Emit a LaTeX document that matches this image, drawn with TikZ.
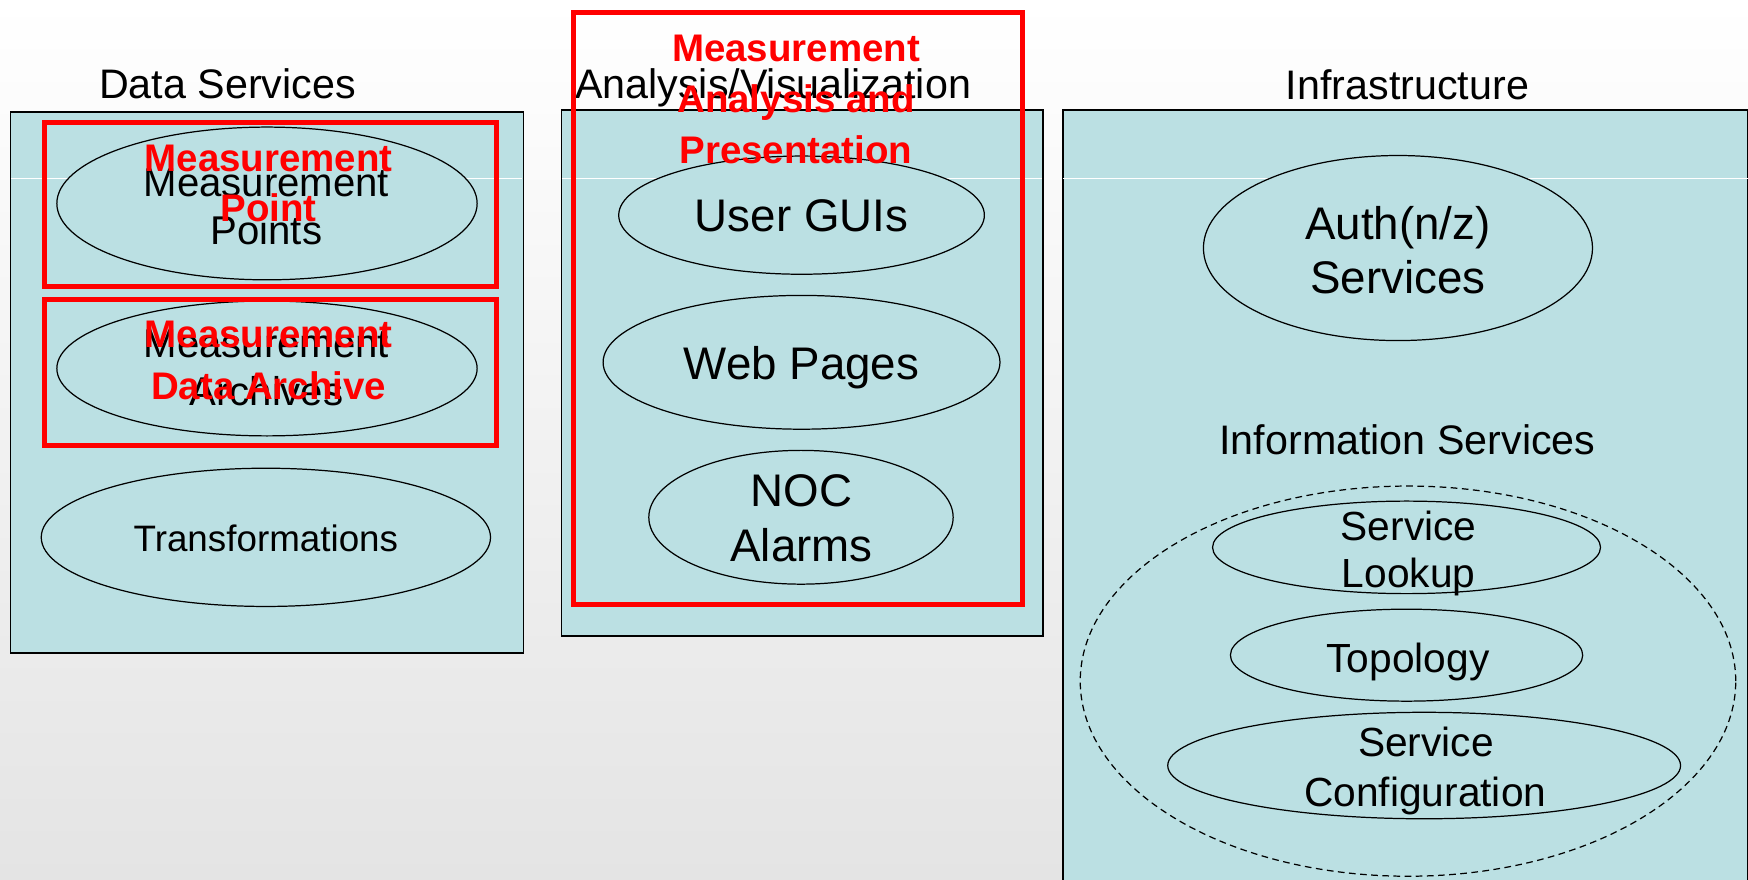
\documentclass[tikz,border=0pt]{standalone}
\usepackage{fontspec}
\setmainfont{Liberation Sans}
\usetikzlibrary{shapes.geometric}
\definecolor{boxfill}{HTML}{BBE0E3}
\definecolor{pptred}{HTML}{FF0000}
\definecolor{bggray}{HTML}{E4E4E4}
\begin{document}
\begin{tikzpicture}[x=1pt,y=-1pt,
  box/.style={draw=black, line width=1.3pt, fill=boxfill, inner sep=0pt, anchor=north west},
  oval/.style={ellipse, draw=black, line width=1.1pt, fill=boxfill, inner sep=0pt},
  dashoval/.style={ellipse, draw=black, line width=1.1pt, dash pattern=on 6pt off 4pt, inner sep=0pt},
  redframe/.style={draw=pptred, line width=4.5pt, inner sep=0pt, anchor=north west},
  lbl/.style={anchor=base, inner sep=0pt, text=black},
  ttl/.style={lbl, font=\fontsize{37}{44}\selectfont},
  big/.style={lbl, font=\fontsize{41}{49}\selectfont},
  mid/.style={lbl, font=\fontsize{36.5}{44}\selectfont},
  left/.style={lbl, font=\fontsize{36}{43}\selectfont},
  redtxt/.style={anchor=base, inner sep=0pt, text=pptred, font=\bfseries\fontsize{34.5}{41}\selectfont},
  sep/.style={draw=white, line width=0.8pt}
]
\useasboundingbox (0,0) rectangle (1568,789);
\clip (0,0) rectangle (1568,789);
\shade[top color=white, bottom color=bggray] (0,0) rectangle (1568,789);

% column boxes
\node[box, minimum width=460pt, minimum height=485pt] (ds) at (9,100) {};
\node[box, minimum width=432pt, minimum height=472pt] (av) at (503,98) {};
\node[box, minimum width=614pt, minimum height=720pt] (inf) at (953,98) {};

% faint white separator line
\coordinate (s1a) at (9.7,160); \coordinate (s1b) at (468.3,160);
\coordinate (s2a) at (503.7,160); \coordinate (s2b) at (934.3,160);
\coordinate (s3a) at (953.7,160); \coordinate (s3b) at (1568,160);
\draw[sep] (s1a) -- (s1b);
\draw[sep] (s2a) -- (s2b);
\draw[sep] (s3a) -- (s3b);

% titles
\node[ttl] (tds) at (204,88.5) {Data Services};
\node[ttl] (tav) at (693.5,88) {Analysis/Visualization};
\node[ttl] (tinf) at (1262.5,89.5) {Infrastructure};

% data services ellipses
\node[oval, minimum width=377pt, minimum height=137pt] (mp) at (239.5,182.5) {};
\node[oval, minimum width=377pt, minimum height=121pt] (ma) at (239.5,330.5) {};
\node[oval, minimum width=403pt, minimum height=124pt] (tr) at (238.5,482) {};
\node[left] (mp1) at (239,176) {Measurement};
\node[left] (mp2) at (239,219) {Points};
\node[left] (ma1) at (239,321) {Measurement};
\node[left] (ma2) at (239,364) {Archives};
\node[lbl, font=\fontsize{33}{40}\selectfont] (tr1) at (238.5,495) {Transformations};

% analysis ellipses
\node[oval, minimum width=328pt, minimum height=106pt] (gui) at (719,193) {};
\node[oval, minimum width=356pt, minimum height=120pt] (web) at (719,325) {};
\node[oval, minimum width=273pt, minimum height=120pt] (noc) at (718.5,464) {};
\node[big] (gui1) at (719,208) {User GUIs};
\node[big] (web1) at (719,340) {Web Pages};
\node[big] (noc1) at (719,454.6) {NOC};
\node[big] (noc2) at (719,504) {Alarms};

% infrastructure
\node[oval, minimum width=349pt, minimum height=166pt] (auth) at (1254,222.5) {};
\node[big] (auth1) at (1254,215) {Auth(n/z)};
\node[big] (auth2) at (1254,263.5) {Services};
\node[ttl] (info) at (1262.5,408) {Information Services};
\node[dashoval, minimum width=588pt, minimum height=350pt] (infoset) at (1263,611) {};
\node[oval, minimum width=348pt, minimum height=83pt] (look) at (1261.7,491) {};
\node[oval, minimum width=316pt, minimum height=82.5pt] (topo) at (1261.7,587.7) {};
\node[oval, minimum width=460pt, minimum height=95.5pt] (conf) at (1277.5,686.7) {};
\node[mid] (look1) at (1263.5,484.7) {Service};
\node[mid] (look2) at (1263.5,527.4) {Lookup};
\node[mid] (topo1) at (1263,602.8) {Topology};
\node[mid] (conf1) at (1279,679) {Service};
\node[mid] (conf2) at (1278.5,723.3) {Configuration};

% red overlays
\node[redframe, minimum width=405pt, minimum height=147pt] (rf1) at (38,108) {};
\node[redframe, minimum width=405pt, minimum height=131pt] (rf2) at (38,266) {};
\node[redframe, minimum width=402.4pt, minimum height=531.4pt] (rf3) at (512.6,8.6) {};
\node[redtxt] (r1a) at (241,154) {Measurement};
\node[redtxt] (r1b) at (241,198.5) {Point};
\node[redtxt] (r2a) at (241,312) {Measurement};
\node[redtxt] (r2b) at (241,358) {Data Archive};
\node[redtxt] (r3a) at (714,55) {Measurement};
\node[redtxt] (r3b) at (714,100.6) {Analysis and};
\node[redtxt] (r3c) at (714,146.4) {Presentation};
\end{tikzpicture}
\end{document}
